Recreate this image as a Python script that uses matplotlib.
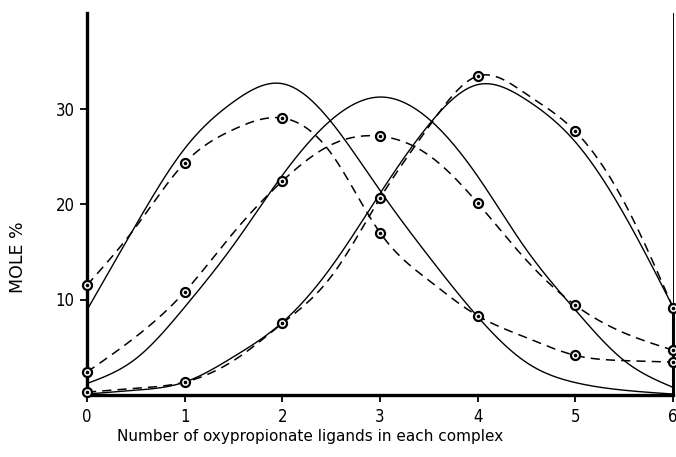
import numpy as np
import matplotlib
matplotlib.use("Agg")
import matplotlib.pyplot as plt

# ---- data ----
ligands = [0, 1, 2, 3, 4, 5, 6]
tick_labels = ["0", "1", "2", "3", "4", "5", "6"]
yticks = [10, 20, 30]

# experimental points (circles)
exp_A = [11.5, 24.3, 29.0, 17.0, 8.3, 4.15, 3.45]
exp_B = [2.4, 10.8, 22.4, 27.1, 20.1, 9.4, 4.7]
exp_C = [0.3, 1.35, 7.5, 20.6, 33.4, 27.6, 9.15]

# curve traces read at half-unit steps
curve_x = [0, 0.5, 1, 1.5, 2, 2.5, 3, 3.5, 4, 4.5, 5, 5.5, 6]
dashed_A = [11.5, 17.6, 24.3, 27.8, 29.0, 25.3, 17.0, 12.0, 8.3, 6.0, 4.15, 3.6, 3.45]
dashed_B = [2.4, 6.1, 10.8, 17.0, 22.4, 26.2, 27.1, 25.1, 20.1, 14.1, 9.4, 6.5, 4.7]
dashed_C = [0.3, 0.7, 1.35, 3.6, 7.5, 12.4, 20.6, 28.1, 33.4, 31.5, 27.6, 20.2, 9.15]
solid_A = [8.9, 17.8, 25.8, 30.7, 32.6, 28.6, 21.4, 14.5, 8.2, 3.4, 1.3, 0.5, 0.1]
solid_B = [1.2, 3.8, 9.2, 15.7, 23.0, 28.8, 31.2, 28.9, 22.9, 15.2, 8.9, 3.6, 0.8]
solid_C = [0.1, 0.5, 1.35, 4.0, 7.6, 13.4, 21.1, 28.3, 32.5, 30.9, 26.5, 18.9, 9.2]


def natural_spline(x, y, n=400):
    x = np.asarray(x, float)
    y = np.asarray(y, float)
    m = len(x)
    h = np.diff(x)
    A = np.zeros((m, m))
    r = np.zeros(m)
    A[0, 0] = 1
    A[-1, -1] = 1
    for i in range(1, m - 1):
        A[i, i - 1] = h[i - 1]
        A[i, i] = 2 * (h[i - 1] + h[i])
        A[i, i + 1] = h[i]
        r[i] = 3 * ((y[i + 1] - y[i]) / h[i] - (y[i] - y[i - 1]) / h[i - 1])
    c = np.linalg.solve(A, r)
    b = (np.diff(y) / h) - h * (2 * c[:-1] + c[1:]) / 3
    d = np.diff(c) / (3 * h)
    xs = np.linspace(x[0], x[-1], n)
    idx = np.clip(np.searchsorted(x, xs) - 1, 0, m - 2)
    dx = xs - x[idx]
    ys = y[idx] + b[idx] * dx + c[idx] * dx ** 2 + d[idx] * dx ** 3
    return xs, ys


fig = plt.figure(figsize=(6.76, 4.57), dpi=100)
ax = fig.add_axes([87 / 676, 1 - 395 / 457, 586 / 676, 382 / 457])

for ys in (solid_A, solid_B, solid_C):
    sx, sy = natural_spline(curve_x, ys)
    ax.plot(sx, sy, color="black", lw=1.0, clip_on=False)

for ys in (dashed_A, dashed_B, dashed_C):
    sx, sy = natural_spline(curve_x, ys)
    ax.plot(sx, sy, color="black", lw=1.1, dashes=(6, 4), clip_on=False)

for ys in (exp_A, exp_B, exp_C):
    ax.plot(ligands, ys, linestyle="none", marker="o", markersize=6.5,
            markerfacecolor="white", markeredgecolor="black",
            markeredgewidth=1.6, clip_on=False, zorder=5)
    ax.plot(ligands, ys, linestyle="none", marker="o", markersize=1.6,
            color="black", clip_on=False, zorder=6)

ax.set_xlim(0, 6)
ax.set_ylim(0, 40)

ax.spines["top"].set_visible(False)
ax.spines["left"].set_linewidth(2.4)
ax.spines["bottom"].set_linewidth(2.4)
ax.spines["right"].set_linewidth(0.7)
ax.vlines(6, 0, exp_C[-1], color="black", lw=2.2, clip_on=False)

ax.set_xticks(ligands)
ax.set_xticklabels(tick_labels)
ax.set_yticks(yticks)
ax.tick_params(axis="both", direction="out", length=5, width=1.3,
               labelsize=12, pad=4)
ax.tick_params(axis="y", right=False)
for lab in ax.get_xticklabels() + ax.get_yticklabels():
    lab.set_fontstretch("condensed")

ax.set_xlabel("Number of oxypropionate ligands in each complex",
              fontsize=11)
ax.xaxis.set_label_coords(0.38, -0.088)
ax.set_ylabel("MOLE %", fontsize=12.5)
ax.yaxis.set_label_coords(-0.102, 0.36)

fig.savefig("out.png", dpi=100)
